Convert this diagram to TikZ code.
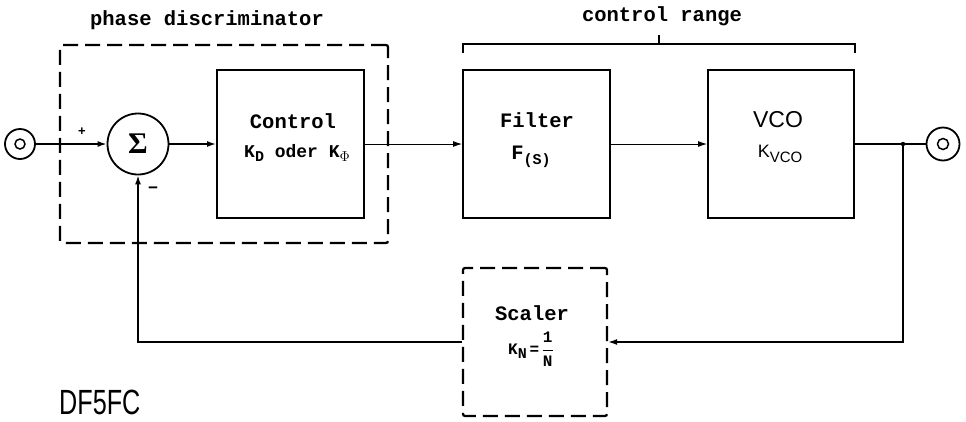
\documentclass[tikz,border=0pt]{standalone}
\usepackage{fontspec}
\usepackage{graphicx}
\setmainfont{Liberation Sans}
\setmonofont{Liberation Mono}
\newfontfamily\greekserif{Liberation Serif}
\usetikzlibrary{arrows.meta}

% lowered index in the block labels
\newcommand{\dnsub}[1]{\raisebox{-0.5ex}{\fontsize{15}{15}\selectfont #1}}
% fraction whose parts keep the surrounding text font
\newcommand{\txtfrac}[2]{$\displaystyle\frac{\hbox{#1}}{\hbox{#2}}$}

\begin{document}
\begin{tikzpicture}[x=1pt,y=-1pt,
  blk/.style={draw, line width=2pt, minimum width=147pt, minimum height=148pt, inner sep=0pt},
  dashblk/.style={draw, line width=2.2pt, dash pattern=on 15pt off 7pt, rounded corners=2pt, inner sep=0pt},
  wire/.style={line width=1.5pt},
  fine wire/.style={line width=0.9pt},
  sig/.style={-{Latex[length=9pt,width=6pt]}},
  term/.style={circle, draw, line width=1.8pt, inner sep=0pt},
  lab/.style={font=\ttfamily\bfseries\fontsize{20.5}{23}\selectfont, inner sep=0pt},
  sublab/.style={font=\ttfamily\bfseries\fontsize{18}{20}\selectfont, inner sep=0pt},
  sans/.style={font=\fontsize{23}{25}\selectfont, inner sep=0pt},
]
\useasboundingbox (0,0) rectangle (966,421);

% phase discriminator group
\node[dashblk, minimum width=328pt, minimum height=198pt] (pd) at (224,144) {};
\node[lab] (pdlab) at (207,20) {phase discriminator};

% terminals
\node[term, minimum size=30pt] (in) at (20,144) {};
\node[term, minimum size=10pt, line width=1.5pt] (inc) at (20,144) {};
\node[term, minimum size=33pt] (out) at (943,144) {};
\node[term, minimum size=11pt, line width=1.5pt] (outc) at (943,144) {};

% summing point
\node[term, minimum size=61pt] (sum) at (138,144) {\greekserif\bfseries\fontsize{30}{30}\selectfont Σ};
\node[font=\bfseries\fontsize{13}{13}\selectfont, inner sep=0pt] (plus) at (82,132) {+};
\node[font=\bfseries\fontsize{17}{17}\selectfont, inner sep=0pt] (minus) at (153,190) {−};

% blocks of the forward path
\node[blk] (ctrl) at (290.5,144) {};
\node[lab] (ctrlt) at (293,121) {Control};
\node[sublab] (ctrlk) at (297,153) {K\dnsub{D} oder K\dnsub{$\Phi$}};

\node[blk] (filt) at (536.5,144) {};
\node[lab] (filtt) at (537,120) {Filter};
\node[lab] (filtf) at (531,157) {F\dnsub{(S)}};

\node[blk, minimum width=146pt] (vco) at (781,144) {};
\node[sans] (vcot) at (778,120) {VCO};
\node[sans, font=\fontsize{18}{20}\selectfont] (vcok) at (780,154) {K\dnsub{VCO}};

% control range bracket
\coordinate (bl1) at (463,53);
\coordinate (bl2) at (463,44);
\coordinate (br2) at (855,44);
\coordinate (br1) at (855,53);
\coordinate (bm1) at (659,44);
\coordinate (bm2) at (659,35);
\draw[line width=1.8pt] (bl1) -- (bl2) -- (br2) -- (br1);
\draw[line width=1.8pt] (bm1) -- (bm2);
\node[lab] (crlab) at (662,16) {control range};

% scaler in the feedback path
\node[dashblk, minimum width=144pt, minimum height=148pt] (scal) at (535,342) {};
\node[lab] (scalt) at (532,313) {Scaler};
\node[sublab, font=\ttfamily\bfseries\fontsize{16}{18}\selectfont] (scalk) at (531,349) {K\dnsub{N}\,=\,\txtfrac{1}{N}};

% connectors
\coordinate (j) at (903,144);
\coordinate (fbr) at (903,342);
\coordinate (fbl) at (138,342);

\draw[wire, sig] (in.east) -- (sum.west);
\draw[wire, sig] (sum.east) -- (ctrl.west);
\draw[fine wire, sig] (ctrl.east) -- (filt.west);
\draw[fine wire, sig] (filt.east) -- (vco.west);
\draw[wire] (vco.east) -- (j) -- (out.west);
\fill (j) circle (2.2pt);
\draw[wire, sig] (j) -- (fbr) -- (scal.east);
\draw[wire, sig] (scal.west) -- (fbl) -- (sum.south);

% signature
\node[anchor=west, inner sep=0pt, font=\fontsize{35}{36}\selectfont] (sig) at (59,402)
  {\scalebox{0.72}[1]{DF5FC}};
\end{tikzpicture}
\end{document}
